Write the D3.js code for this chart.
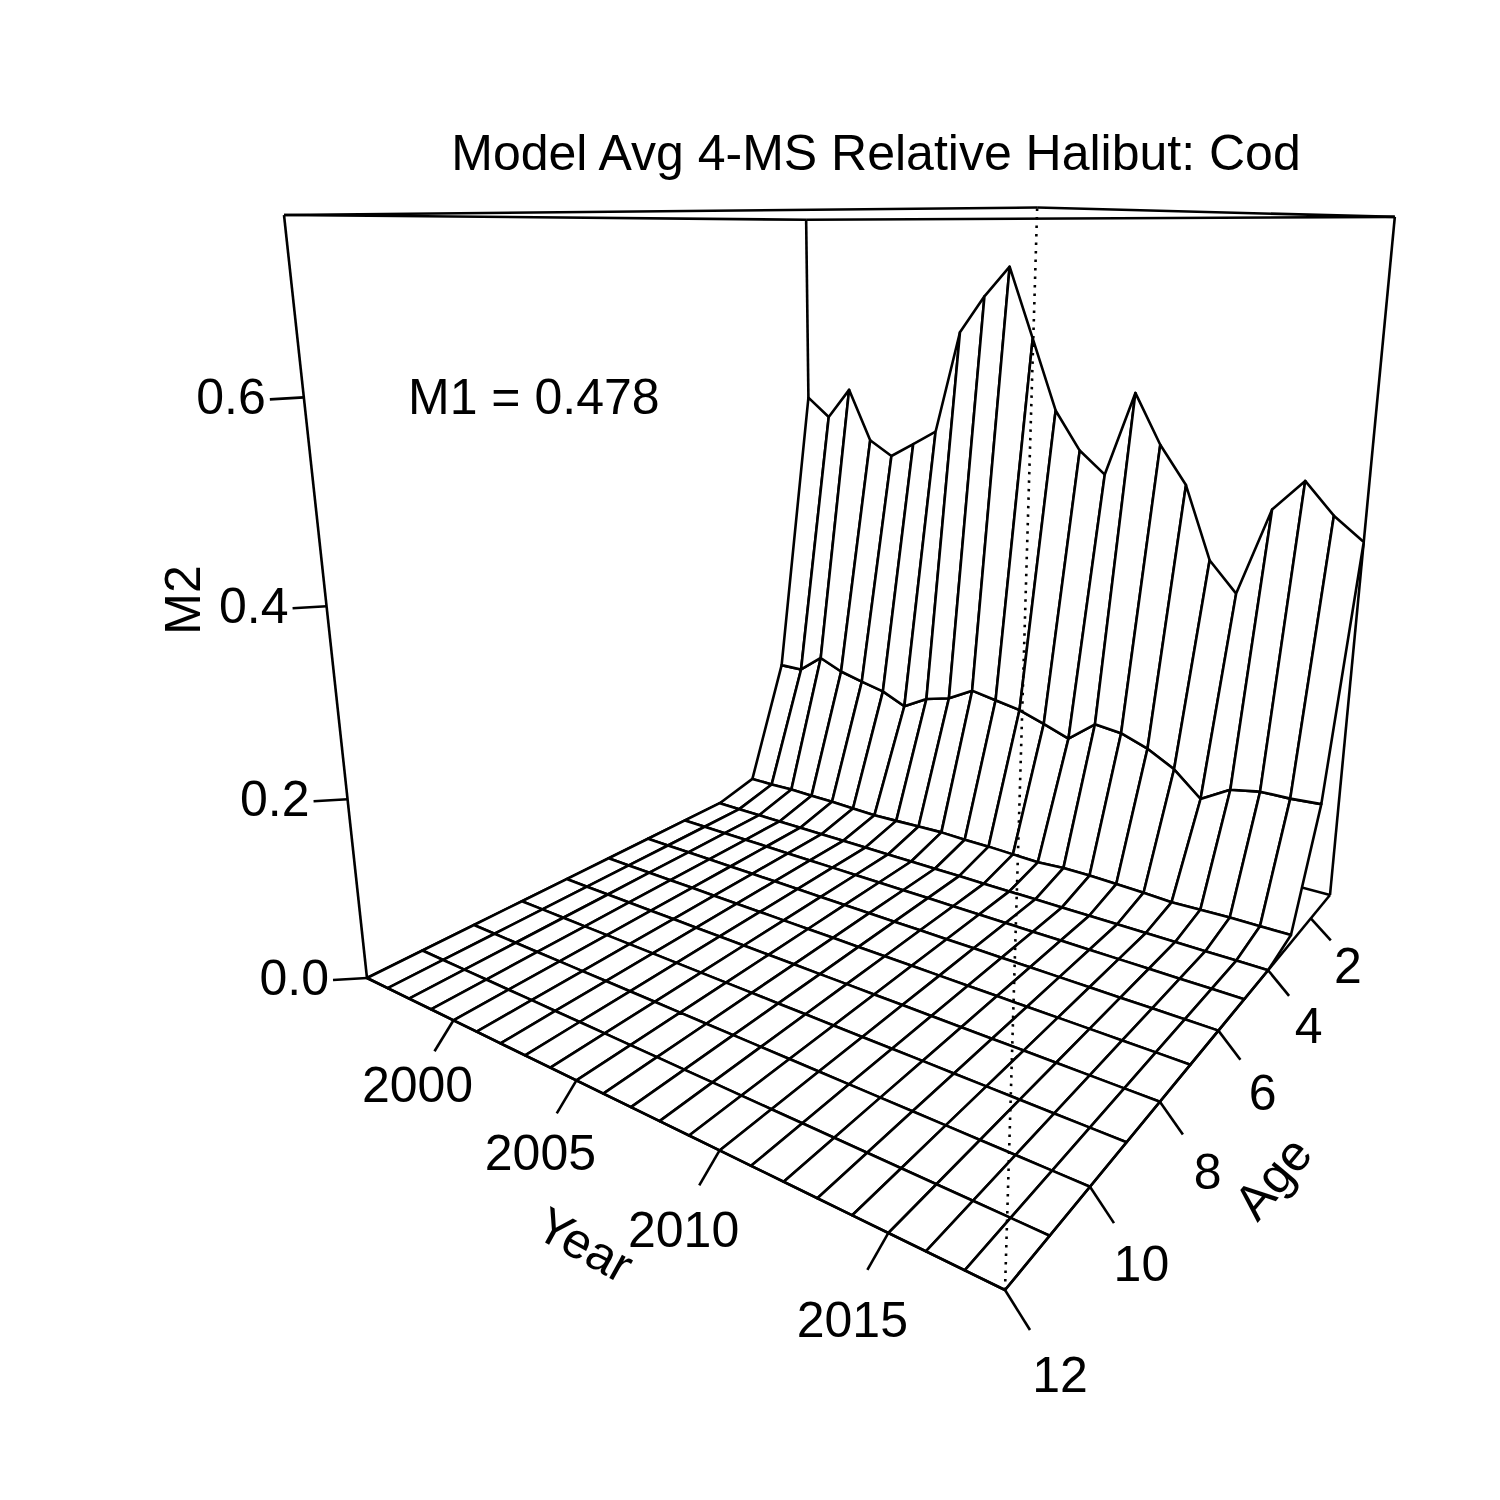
<!DOCTYPE html>
<html>
<head>
<meta charset="utf-8">
<script src="https://cdn.jsdelivr.net/npm/d3@7"></script>
<style>
  body { margin: 0; background: #fff; }
  text { font-family: "Liberation Sans", Arial, sans-serif; fill: #000; }
</style>
</head>
<body>
<svg id="chart" width="1500" height="1500"></svg>
<script>
// ---- data ----
const years = [1996,1997,1998,1999,2000,2001,2002,2003,2004,2005,2006,2007,
               2008,2009,2010,2011,2012,2013,2014,2015,2016,2017,2018];
const ages = [1,2,3,4,5,6,7,8,9,10,11,12];
const m2Age1 = [0.527,0.503,0.542,0.477,0.459,0.478,0.497,0.625,0.670,0.706,0.622,0.537,
                0.491,0.465,0.565,0.507,0.463,0.378,0.343,0.446,0.482,0.447,0.422];
const m2Age2 = [0.160,0.160,0.183,0.170,0.162,0.155,0.141,0.158,0.166,0.183,0.177,0.171,
                0.160,0.148,0.174,0.170,0.158,0.140,0.111,0.131,0.137,0.137,0.139];
const m2Age3 = [0.012,0.012,0.013,0.012,0.012,0.011,0.010,0.011,0.012,0.013,0.012,0.012,
                0.011,0.010,0.012,0.012,0.011,0.010,0.008,0.009,0.010,0.010,0.010];
const m2Older = [0,0,0,0,0,0,0,0,0,0,0,0,0,0,0,0,0,0,0,0,0,0,0]; // ages 4-12
const yearTicks = [2000, 2005, 2010, 2015];
const ageTicks = [2, 4, 6, 8, 10, 12];
const zTicks = [0.0, 0.2, 0.4, 0.6];
const zMax = 0.762;
const titleText = "Model Avg 4-MS Relative Halibut: Cod";
const m1Text = "M1 = 0.478";

const m2 = ages.map(a => a === 1 ? m2Age1 : a === 2 ? m2Age2 : a === 3 ? m2Age3 : m2Older);

// ---- projection (box corners on screen) ----
const Dp = [813, 757], Cp = [1330, 895], Bp = [1005, 1290], Ap = [367, 978];
const Atop = [284, 215], Ctop = [1395, 215];

function squareToQuad(p0, p1, p2, p3) {
  const [x0,y0]=p0,[x1,y1]=p1,[x2,y2]=p2,[x3,y3]=p3;
  const dx1=x1-x2, dx2=x3-x2, dx3=x0-x1+x2-x3;
  const dy1=y1-y2, dy2=y3-y2, dy3=y0-y1+y2-y3;
  const den = dx1*dy2 - dx2*dy1;
  const g = (dx3*dy2 - dx2*dy3)/den, h = (dx1*dy3 - dx3*dy1)/den;
  return {a:x1-x0+g*x1, b:x3-x0+h*x3, c:x0, d:y1-y0+g*y1, e:y3-y0+h*y3, f:y0, g, h};
}
function intersect(p1, p2, p3, p4) {
  const d = (p1[0]-p2[0])*(p3[1]-p4[1]) - (p1[1]-p2[1])*(p3[0]-p4[0]);
  const t = ((p1[0]-p3[0])*(p3[1]-p4[1]) - (p1[1]-p3[1])*(p3[0]-p4[0]))/d;
  return [p1[0]+t*(p2[0]-p1[0]), p1[1]+t*(p2[1]-p1[1])];
}
// u: year (0 back-left .. 1 front), v: age (0 = age 1 .. 1 = age 12)
const H = squareToQuad(Dp, Cp, Bp, Ap);
const V = intersect(Ap, Atop, Cp, Ctop); // vertical vanishing point
const lam = (Atop[1]*(H.h+1) - (H.e+H.f)) / (V[1] - Atop[1]);

function proj(u, v, w) {
  const X = H.a*u + H.b*v + H.c + lam*V[0]*w;
  const Y = H.d*u + H.e*v + H.f + lam*V[1]*w;
  const W = H.g*u + H.h*v + 1 + lam*w;
  return [X/W, Y/W, W];
}

const uS = d3.scaleLinear().domain([years[0], years[years.length-1]]).range([0, 1]);
const vS = d3.scaleLinear().domain([1, 12]).range([0, 1]);
const wS = d3.scaleLinear().domain([0, zMax]).range([0, 1]);

const svg = d3.select("#chart");
const line = d3.line();
const P = (yr, age, z) => proj(uS(yr), vS(age), wS(z));
const seg = (g, a, b, dash) => g.append("path")
    .attr("d", line([[a[0], a[1]], [b[0], b[1]]])).attr("fill", "none")
    .attr("stroke", "#000").attr("stroke-width", 2.6)
    .attr("stroke-dasharray", dash || null);

const y0 = years[0], y1 = years[years.length-1];
const corner = (yr, age, top) => P(yr, age, top ? zMax : 0);

// back box edges
const back = svg.append("g");
seg(back, corner(y0,1,false), corner(y0,1,true));
seg(back, corner(y0,12,false), corner(y0,12,true));
seg(back, corner(y1,1,false), corner(y1,1,true));
seg(back, corner(y0,12,true), corner(y0,1,true));
seg(back, corner(y0,1,true), corner(y1,1,true));
seg(back, corner(y0,12,false), corner(y0,1,false));
seg(back, corner(y0,1,false), corner(y1,1,false));

// surface facets, far to near
const facets = [];
for (let i = 0; i < years.length-1; i++) {
  for (let j = 0; j < ages.length-1; j++) {
    const pts = [
      P(years[i], ages[j], m2[j][i]),
      P(years[i+1], ages[j], m2[j][i+1]),
      P(years[i+1], ages[j+1], m2[j+1][i+1]),
      P(years[i], ages[j+1], m2[j+1][i])
    ];
    facets.push({pts, depth: d3.mean(pts, p => p[2])});
  }
}
facets.sort((a, b) => b.depth - a.depth);
svg.append("g").selectAll("path")
  .data(facets)
  .join("path")
    .attr("d", d => line(d.pts.map(p => [p[0], p[1]])) + "Z")
    .attr("fill", "#fff")
    .attr("stroke", "#000")
    .attr("stroke-width", 2.6)
    .attr("stroke-linejoin", "round");

// front box edges
const front = svg.append("g");
seg(front, corner(y0,12,false), corner(y1,12,false));
seg(front, corner(y1,12,false), corner(y1,1,false));
seg(front, corner(y0,12,true), corner(y1,12,true));
seg(front, corner(y1,12,true), corner(y1,1,true));
seg(front, corner(y1,12,false), corner(y1,12,true), "2.5,6");

// axes
const ax = svg.append("g").attr("font-size", 50);
yearTicks.forEach(t => {
  const a = P(t, 12, 0);
  const k = (t - 2000) / 15;
  seg(ax, a, [a[0] - 19 - 2*k, a[1] + 31 + 6*k]);
  ax.append("text").attr("x", a[0] - 36).attr("y", a[1] + 65 + 22*k)
    .attr("text-anchor", "middle").attr("dominant-baseline", "central").text(t);
});
ageTicks.forEach(t => {
  const a = P(y1, t, 0);
  const k = t - 2;
  seg(ax, a, [a[0] + 20 + 0.5*k, a[1] + 22 + 1.8*k]);
  ax.append("text").attr("x", a[0] + 37 + 1.8*k).attr("y", a[1] + 48 + 3.7*k)
    .attr("text-anchor", "middle").attr("dominant-baseline", "central").text(t);
});
zTicks.forEach(t => {
  const a = P(y0, 12, t);
  seg(ax, a, [a[0]-34, a[1]+2]);
  ax.append("text").attr("x", a[0]-38).attr("y", a[1]).attr("text-anchor", "end")
    .attr("dominant-baseline", "central").text(d3.format(".1f")(t));
});

ax.append("text").attr("transform", "translate(585,1245) rotate(29)")
  .attr("text-anchor", "middle").attr("dominant-baseline", "central").text("Year");
ax.append("text").attr("transform", "translate(1273,1178) rotate(-50)")
  .attr("text-anchor", "middle").attr("dominant-baseline", "central").text("Age");
ax.append("text").attr("transform", "translate(183,600) rotate(-90)")
  .attr("text-anchor", "middle").attr("dominant-baseline", "central").text("M2");

svg.append("text").attr("x", 876).attr("y", 170).attr("text-anchor", "middle")
  .attr("font-size", 50).text(titleText);
svg.append("text").attr("x", 408).attr("y", 414)
  .attr("font-size", 50).text(m1Text);
</script>
</body>
</html>
